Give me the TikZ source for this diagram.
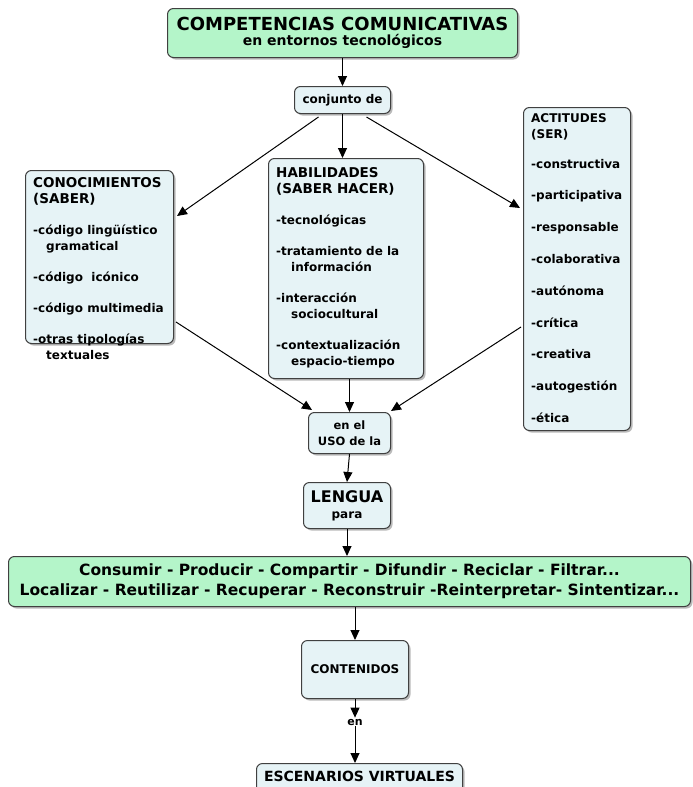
\documentclass[tikz,border=0pt]{standalone}
\usepackage{fontspec}
\setmainfont{DejaVu Sans}
\usetikzlibrary{arrows.meta,shadows,calc}
\definecolor{boxblue}{HTML}{E6F3F6}
\definecolor{boxgreen}{HTML}{B4F5C9}
\newcommand{\hd}[1]{{\fontsize{13.5}{16}\selectfont #1}}
\begin{document}
\begin{tikzpicture}[x=1pt,y=-1pt,
  box/.style={draw=black!75, line width=1pt, rounded corners=6pt, fill=boxblue,
    drop shadow={shadow xshift=2pt, shadow yshift=-2pt, fill=black!45, opacity=.6},
    inner sep=0pt, anchor=north west, font=\bfseries\fontsize{12}{16}\selectfont, align=center},
  gbox/.style={box, fill=boxgreen},
  txt/.style={inner sep=0pt, anchor=north west, align=left, font=\bfseries\fontsize{12}{16}\selectfont},
  arr/.style={-{Triangle[length=10pt,width=9pt]}, line width=1pt, black}]
\useasboundingbox (0,0) rectangle (693,787);
\clip (0,0) rectangle (693,787);
% boxes
\node[gbox, minimum width=350pt, minimum height=49pt] (top) at (167,8)
  {{\fontsize{18}{21}\selectfont COMPETENCIAS COMUNICATIVAS}\\[-1pt]{\fontsize{14}{16}\selectfont en entornos tecnológicos}};
\node[box, minimum width=96pt, minimum height=27pt] (conj) at (294,86) {conjunto de};
\node[box, minimum width=148pt, minimum height=173pt] (con) at (25,170) {};
\node[txt] (cont) at (33,177) {\hd{CONOCIMIENTOS}\\\hd{(SABER)}\\[15pt]-código lingüístico\\\hspace*{13pt}gramatical\\[15pt]-código\ \ icónico\\[15pt]-código multimedia\\[15pt]-otras tipologías\\\hspace*{13pt}textuales};
\node[box, minimum width=155pt, minimum height=220pt] (hab) at (268,158) {};
\node[txt] (habt) at (276,167) {\hd{HABILIDADES}\\\hd{(SABER HACER)}\\[15pt]-tecnológicas\\[15pt]-tratamiento de la\\\hspace*{15pt}información\\[15pt]-interacción\\\hspace*{15pt}sociocultural\\[15pt]-contextualización\\\hspace*{15pt}espacio-tiempo};
\node[box, minimum width=107pt, minimum height=323pt] (act) at (523,107) {};
\node[txt] (actt) at (531,113) {ACTITUDES\\(SER)\\[14pt]-constructiva\\[15.8pt]-participativa\\[15.8pt]-responsable\\[15.8pt]-colaborativa\\[15.8pt]-autónoma\\[15.8pt]-crítica\\[15.8pt]-creativa\\[15.8pt]-autogestión\\[15.8pt]-ética};
\node[box, minimum width=82pt, minimum height=41pt, font=\bfseries\fontsize{11.5}{15}\selectfont] (uso) at (308,412) {en el\\[1pt]USO de la};
\node[box, minimum width=87pt, minimum height=46pt] (len) at (303,482) {{\fontsize{16}{18}\selectfont LENGUA}\\[0pt]para};
\node[gbox, minimum width=682pt, minimum height=50pt, font=\bfseries\fontsize{15.5}{20}\selectfont] (verbs) at (8,556)
  {Consumir - Producir - Compartir - Difundir - Reciclar - Filtrar...\\Localizar - Reutilizar - Recuperar - Reconstruir -Reinterpretar- Sintentizar...};
\node[box, minimum width=107pt, minimum height=58pt, font=\bfseries\fontsize{12}{14}\selectfont] (cnt) at (301,640) {CONTENIDOS};
\node[inner sep=1pt, font=\bfseries\fontsize{11}{13}\selectfont] (en) at (355,722) {en};
\node[box, minimum width=206pt, minimum height=40pt, font=\bfseries\fontsize{14}{16}\selectfont, text depth=14pt] (esc) at (256,763) {ESCENARIOS VIRTUALES};
% connectors
\draw[arr] (top.south -| conj.north) -- (conj.north);
\draw[arr] ([xshift=-24pt,yshift=-3pt]conj.south) -- ([xshift=3pt,yshift=41pt]con.east);
\draw[arr] (conj.south) -- (conj.south |- hab.north);
\draw[arr] ([xshift=24pt,yshift=-3pt]conj.south) -- ([xshift=-3pt,yshift=61pt]act.west);
\draw[arr] ([xshift=2pt,yshift=-65pt]con.east) -- ([xshift=4pt,yshift=2pt]uso.north west);
\draw[arr] (hab.south -| uso.north) -- (uso.north);
\draw[arr] ([xshift=-2pt,yshift=-58pt]act.west) -- ([xshift=0pt,yshift=1pt]uso.north east);
\draw[arr] (uso.south) -- (len.north);
\draw[arr] (len.south) -- (len.south |- verbs.north);
\draw[arr] (cnt.north |- verbs.south) -- (cnt.north);
\draw[arr] (cnt.south) -- (en.north);
\draw[arr] (en.south) -- (esc.north -| en.south);
\end{tikzpicture}
\end{document}
